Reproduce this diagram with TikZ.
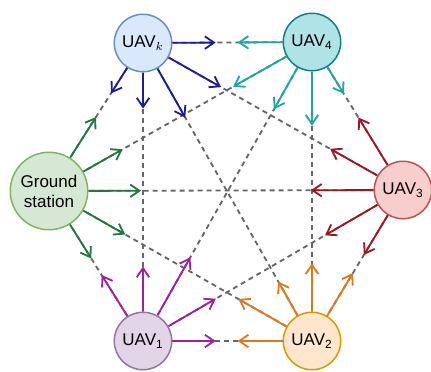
\documentclass[tikz,border=0pt]{standalone}
\usepackage{fontspec}
\setmainfont{Liberation Sans}
\usepackage{tikz}
\usetikzlibrary{arrows.meta,positioning,calc}
\definecolor{linkgray}{HTML}{666666}
\definecolor{kfill}{HTML}{DAE8FC}\definecolor{kline}{HTML}{6C8EBF}\definecolor{karr}{HTML}{1C1C9C}
\definecolor{dfill}{HTML}{B0E3E6}\definecolor{dline}{HTML}{0E8088}\definecolor{darr}{HTML}{1EA5A5}
\definecolor{cfill}{HTML}{F8CECC}\definecolor{cline}{HTML}{B85450}\definecolor{carr}{HTML}{A0161C}
\definecolor{bfill}{HTML}{FFE6CC}\definecolor{bline}{HTML}{D79B00}\definecolor{barr}{HTML}{DA7A1C}
\definecolor{afill}{HTML}{E1D5E7}\definecolor{aline}{HTML}{9673A6}\definecolor{aarr}{HTML}{A020A0}
\definecolor{gfill}{HTML}{D5E8D4}\definecolor{gline}{HTML}{82B366}\definecolor{garr}{HTML}{1E7A42}

\tikzset{
  uav/.style={circle, draw, line width=0.9pt, minimum size=34.5pt, inner sep=0pt,
    font=\fontsize{10.2}{12}\selectfont},
  link/.style={linkgray, line width=1.1pt, dash pattern=on 3pt off 2.4pt},
  flow/.style={line width=1.1pt, -{Straight Barb[length=5.5pt,width=7.5pt]}}
}

\begin{document}
\begin{tikzpicture}[x=0.6pt, y=-0.6pt]
\useasboundingbox (0,0) rectangle (431,372);
% ---------- the six stations
\node[uav, fill=kfill, draw=kline] (K)  at (143,43)  {UAV$_k$};
\node[uav, fill=dfill, draw=dline] (U4) at (312,42)  {UAV\textsubscript{4}};
\node[uav, fill=cfill, draw=cline] (U3) at (403,190) {UAV\textsubscript{3}};
\node[uav, fill=bfill, draw=bline] (U2) at (312,341) {UAV\textsubscript{2}};
\node[uav, fill=afill, draw=aline] (U1) at (143,341) {UAV\textsubscript{1}};
\node[uav, fill=gfill, draw=gline, minimum size=46.5pt, align=center] (G) at (49,191)
  {Ground\\station};

% ---------- all links
\foreach \a/\b in {K/U4, K/U3, K/U2, K/U1, K/G, U4/U3, U4/U2, U4/U1, U4/G,
                   U3/U2, U3/U1, U3/G, U2/U1, U2/G, U1/G}
  \draw[link] (\a) -- (\b);

% ---------- outgoing messages
\foreach \t/\f in {U4/0.43, G/0.34, U1/0.22, U3/0.30, U2/0.25}
  \draw[flow, karr] (K) -- ($(K)!\f!(\t)$);
\foreach \t/\f in {K/0.44, G/0.30, U1/0.225, U2/0.28, U3/0.35}
  \draw[flow, darr] (U4) -- ($(U4)!\f!(\t)$);
\foreach \t/\f in {U4/0.49, K/0.28, G/0.26, U1/0.30, U2/0.43}
  \draw[flow, carr] (U3) -- ($(U3)!\f!(\t)$);
\foreach \t/\f in {U3/0.45, U4/0.26, K/0.20, G/0.28, U1/0.44}
  \draw[flow, barr] (U2) -- ($(U2)!\f!(\t)$);
\foreach \t/\f in {G/0.44, K/0.25, U4/0.28, U3/0.28, U2/0.43}
  \draw[flow, aarr] (U1) -- ($(U1)!\f!(\t)$);
\foreach \t/\f in {K/0.50, U4/0.28, U3/0.26, U2/0.29, U1/0.45}
  \draw[flow, garr] (G) -- ($(G)!\f!(\t)$);
\end{tikzpicture}
\end{document}
